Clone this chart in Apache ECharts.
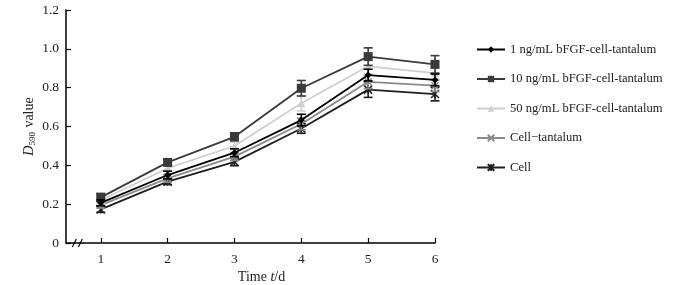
<!doctype html>
<html lang="en">
<head>
    <meta charset="utf-8">
    <title>D590 value vs time</title>
    <script src="https://cdn.jsdelivr.net/npm/echarts@6/dist/echarts.min.js"></script>
    <style>
        html, body { margin: 0; padding: 0; background: #fff; }
    </style>
</head>
<body>

<div id="main" style="width:697px;height:285px;"></div>

<script>
    var myChart = echarts.init(document.getElementById('main'));

    // 数据
    var days = [1, 2, 3, 4, 5, 6];
    var seriesNames = [
        '1 ng/mL bFGF-cell-tantalum',
        '10 ng/mL bFGF-cell-tantalum',
        '50 ng/mL bFGF-cell-tantalum',
        'Cell\u2212tantalum',
        'Cell'
    ];
    var val1ng = [0.207, 0.350, 0.465, 0.633, 0.865, 0.840];
    var val10ng = [0.235, 0.415, 0.547, 0.797, 0.960, 0.920];
    var val50ng = [0.220, 0.385, 0.500, 0.720, 0.910, 0.875];
    var valCellTa = [0.195, 0.333, 0.445, 0.613, 0.830, 0.810];
    var valCell = [0.173, 0.316, 0.418, 0.590, 0.790, 0.767];

    var err1ng = [0.015, 0.020, 0.020, 0.030, 0.030, 0.030];
    var err10ng = [0.020, 0.015, 0.020, 0.040, 0.045, 0.045];
    var err50ng = [0.015, 0.015, 0.020, 0.040, 0.040, 0.030];
    var errCellTa = [0.015, 0.020, 0.020, 0.030, 0.035, 0.030];
    var errCell = [0.015, 0.015, 0.020, 0.025, 0.040, 0.035];

    var groups = [
        {name: seriesNames[0], vals: val1ng, errs: err1ng, color: '#000000', symbol: 'diamond', size: 7, z: 5},
        {name: seriesNames[1], vals: val10ng, errs: err10ng, color: '#3a3a3a', symbol: 'rect', size: 9, z: 4},
        {name: seriesNames[2], vals: val50ng, errs: err50ng, color: '#cfcfcf', symbol: 'triangle', size: 8, z: 3},
        {name: seriesNames[3], vals: valCellTa, errs: errCellTa, color: '#8a8a8a',
            symbol: 'path://M0,0L10,10M10,0L0,10', size: 7, z: 2, stroke: true},
        {name: seriesNames[4], vals: valCell, errs: errCell, color: '#1e1e1e',
            symbol: 'path://M0,0L10,10M10,0L0,10M5,0L5,10', size: 8, z: 1, stroke: true}
    ];

    var pair = function(vals) {
        return days.map(function(d, i) { return [d, vals[i]]; });
    };

    var series = [];
    groups.forEach(function(g) {
        series.push({
            name: g.name,
            type: 'line',
            data: pair(g.vals),
            symbol: g.symbol,
            symbolSize: g.size,
            showAllSymbol: true,
            z: g.z,
            lineStyle: {color: g.color, width: 1.8},
            itemStyle: g.stroke ? {color: g.color, borderColor: g.color, borderWidth: 1.5} : {color: g.color}
        });
        // 误差棒
        series.push({
            name: g.name + ' err',
            type: 'custom',
            z: g.z,
            silent: true,
            data: days.map(function(d, i) { return [d, g.vals[i] - g.errs[i], g.vals[i] + g.errs[i]]; }),
            renderItem: function(params, api) {
                var lo = api.coord([api.value(0), api.value(1)]);
                var hi = api.coord([api.value(0), api.value(2)]);
                var w = 4.5;
                var st = {stroke: g.color, lineWidth: 1.6};
                return {
                    type: 'group',
                    children: [
                        {type: 'line', shape: {x1: hi[0], y1: hi[1], x2: lo[0], y2: lo[1]}, style: st},
                        {type: 'line', shape: {x1: hi[0] - w, y1: hi[1], x2: hi[0] + w, y2: hi[1]}, style: st},
                        {type: 'line', shape: {x1: lo[0] - w, y1: lo[1], x2: lo[0] + w, y2: lo[1]}, style: st}
                    ]
                };
            }
        });
    });

    var font = '"Liberation Serif", "Times New Roman", serif';

    var option = {
        backgroundColor: '#ffffff',
        animation: false,
        textStyle: {fontFamily: font},
        grid: {left: 66, top: 10, right: 262, bottom: 42, outerBoundsMode: 'none'},
        legend: {
            orient: 'vertical',
            left: 471,
            top: 38,
            itemWidth: 28,
            itemHeight: 8,
            itemGap: 16.5,
            data: seriesNames,
            textStyle: {fontFamily: font, fontSize: 12.6, color: '#222'}
        },
        xAxis: {
            type: 'value',
            min: 0.48,
            max: 6,
            name: 'Time {i|t}/d',
            nameLocation: 'middle',
            nameGap: 27,
            nameMoveOverlap: false,
            nameTextStyle: {
                fontFamily: font, fontSize: 14, color: '#222', padding: [0, 0, 0, 22],
                rich: {i: {fontFamily: font, fontSize: 14, fontStyle: 'italic', color: '#222'}}
            },
            splitLine: {show: false},
            axisLine: {show: true, lineStyle: {color: '#000', width: 1.5}},
            axisTick: {show: true, inside: true, length: 5, customValues: days, lineStyle: {color: '#000', width: 1.2}},
            axisLabel: {customValues: days, fontFamily: font, fontSize: 13.5, color: '#222', margin: 9}
        },
        yAxis: {
            type: 'value',
            min: 0,
            max: 1.2,
            interval: 0.2,
            name: '{i|D}{s|590} value',
            nameLocation: 'middle',
            nameGap: 29,
            nameMoveOverlap: false,
            nameTextStyle: {
                fontFamily: font, fontSize: 14, color: '#222',
                rich: {
                    i: {fontFamily: font, fontSize: 14, fontStyle: 'italic', color: '#222'},
                    s: {fontFamily: font, fontSize: 9, color: '#222', padding: [7, 1, 0, 0]}
                }
            },
            splitLine: {show: false},
            axisLine: {show: true, lineStyle: {color: '#000', width: 1.5}},
            axisTick: {show: true, inside: true, length: 5, lineStyle: {color: '#000', width: 1.2}},
            axisLabel: {
                fontFamily: font, fontSize: 13.5, color: '#222', margin: 7,
                formatter: function(v) { return v === 0 ? '0' : v.toFixed(1); }
            }
        },
        series: series
    };

    myChart.setOption(option);

    // 坐标轴断开符号 //
    var p = myChart.convertToPixel({xAxisIndex: 0, yAxisIndex: 0}, [0.65, 0]);
    myChart.setOption({
        graphic: [{
            type: 'group',
            x: p[0],
            y: p[1],
            children: [
                {type: 'rect', shape: {x: -4, y: -1.5, width: 8, height: 3}, style: {fill: '#fff'}},
                {type: 'line', shape: {x1: -5, y1: 4, x2: -1, y2: -4}, style: {stroke: '#000', lineWidth: 1.2}},
                {type: 'line', shape: {x1: 1, y1: 4, x2: 5, y2: -4}, style: {stroke: '#000', lineWidth: 1.2}}
            ]
        }]
    });
</script>
</body>
</html>
